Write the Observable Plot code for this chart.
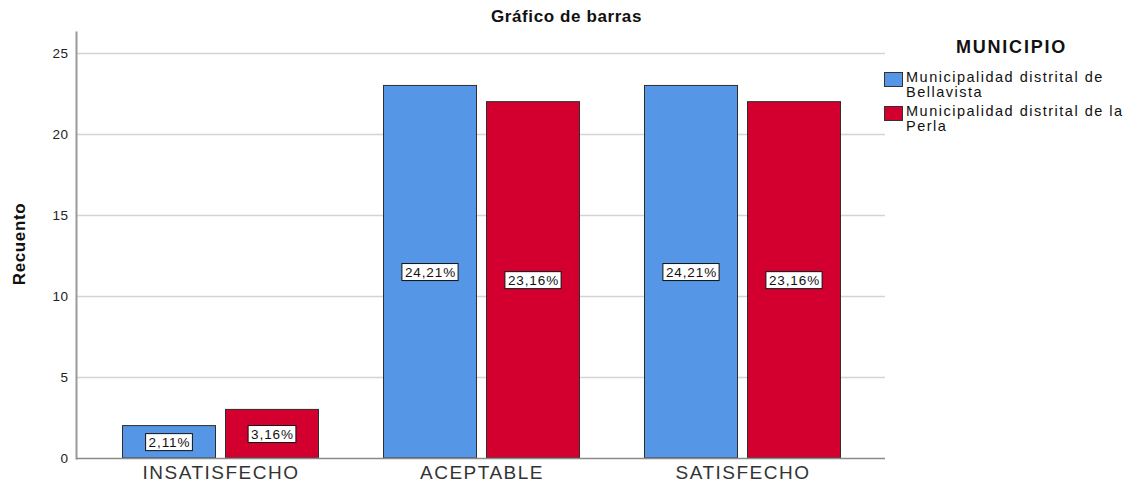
<!DOCTYPE html>
<html>
<head>
<meta charset="utf-8">
<script src="https://cdn.jsdelivr.net/npm/d3@7"></script>
<script src="https://cdn.jsdelivr.net/npm/@observablehq/plot@0.6"></script>
<style>
  body { margin: 0; background: #fff; }
  #wrap { position: relative; width: 1133px; height: 485px; font-family: "Liberation Sans", Arial, sans-serif; }
  #title { position: absolute; left: 0; width: 1133px; top: 7px; text-align: center; font-weight: bold; font-size: 17px; letter-spacing: 0.6px; color: #111; }
  #legend { position: absolute; left: 884px; top: 37px; width: 249px; color: #111; }
  #legend .lt { text-align: center; font-weight: bold; font-size: 18px; letter-spacing: 1.8px; margin-left: 6px; margin-bottom: 12px; }
  #legend .it { display: flex; align-items: flex-start; margin-bottom: 5px; }
  #legend .sw { width: 17px; height: 13px; border: 1px solid #333; margin-top: 2px; margin-right: 3px; flex: none; }
  #legend .tx { font-size: 14.5px; line-height: 14.5px; letter-spacing: 1.5px; }
  svg g[aria-label="x-axis tick label"] text { letter-spacing: 1.5px; }
  svg g[aria-label="y-axis tick label"] text { letter-spacing: 0.5px; }
  svg g.lbl text { letter-spacing: 0.9px; }
  #ylab { position: absolute; left: 20px; top: 244px; transform: translate(-50%, -50%) rotate(-90deg); font-family: "Liberation Sans Narrow", "Liberation Sans", Arial, sans-serif; font-weight: bold; font-size: 17px; letter-spacing: 0.6px; white-space: nowrap; color: #111; }
</style>
</head>
<body>
<div id="wrap">
  <div id="title">Gráfico de barras</div>
  <div id="ylab">Recuento</div>
  <div id="legend"></div>
</div>
<script>
const categories = ["INSATISFECHO", "ACEPTABLE", "SATISFECHO"];
const municipios = ["Municipalidad distrital de Bellavista", "Municipalidad distrital de la Perla"];
const bellavista = [2, 23, 23];
const perla = [3, 22, 22];
const bellavistaPct = ["2,11%", "24,21%", "24,21%"];
const perlaPct = ["3,16%", "23,16%", "23,16%"];
const colors = ["#5596e6", "#d3002f"];
const yTicks = [0, 5, 10, 15, 20, 25];

const rows = [];
categories.forEach((c, i) => {
  rows.push({cat: c, mun: municipios[0], value: bellavista[i], pct: bellavistaPct[i]});
  rows.push({cat: c, mun: municipios[1], value: perla[i], pct: perlaPct[i]});
});
const rowsB = rows.filter(d => d.mun === municipios[0]);
const rowsP = rows.filter(d => d.mun === municipios[1]);

const barOpts = {insetLeft: 84, insetRight: 84, stroke: "#2e2e2e", strokeWidth: 1};
const txtOpts = {fontSize: 13.5, fill: "#111", className: "lbl"};

const chart = Plot.plot({
  width: 1133,
  height: 485,
  marginTop: 32,
  marginBottom: 27,
  marginLeft: 76,
  marginRight: 248,
  style: {fontFamily: "'Liberation Sans', Arial, sans-serif", background: "transparent", overflow: "visible"},
  x: {domain: categories, padding: 0, insetLeft: 13.5, insetRight: 12.5, label: null},
  y: {domain: [0, 26.3], label: null},
  marks: [
    Plot.gridY(yTicks.filter(t => t > 0), {stroke: "#d4d4d4", strokeOpacity: 1, strokeWidth: 1.5}),
    Plot.frame({anchor: "left", stroke: "#9a9a9a", strokeWidth: 2}),
    Plot.barY(rowsB, {x: "cat", y: "value", fill: colors[0], dx: -51.5, ...barOpts}),
    Plot.barY(rowsP, {x: "cat", y: "value", fill: colors[1], dx: 51.5, ...barOpts}),
    Plot.ruleY([0], {stroke: "#8a8a8a", strokeWidth: 1.5}),
    Plot.text(rowsB, {x: "cat", y: d => d.value / 2, text: "pct", dx: -51.5, ...txtOpts}),
    Plot.text(rowsP, {x: "cat", y: d => d.value / 2, text: "pct", dx: 51.5, ...txtOpts}),
    Plot.axisY({ticks: yTicks, tickSize: 0, tickPadding: 8, fontSize: 13.5, label: null, fill: "#222"}),
    Plot.axisX({tickSize: 0, tickPadding: 7, fontSize: 19, label: null, fill: "#333"})
  ]
});
chart.style.position = "absolute";
chart.style.left = "0px";
chart.style.top = "0px";
const wrap = document.getElementById("wrap");
wrap.insertBefore(chart, wrap.firstChild);

// white label boxes behind percentage texts
chart.querySelectorAll("g.lbl text").forEach(t => {
  const b = t.getBBox();
  const r = document.createElementNS("http://www.w3.org/2000/svg", "rect");
  const h = 17;
  r.setAttribute("x", b.x - 3);
  r.setAttribute("y", b.y + b.height / 2 - h / 2);
  r.setAttribute("width", b.width + 5);
  r.setAttribute("height", h);
  r.setAttribute("fill", "#fff");
  r.setAttribute("stroke", "#111");
  r.setAttribute("stroke-width", 1);
  const tr = t.getAttribute("transform");
  if (tr) r.setAttribute("transform", tr);
  t.parentNode.insertBefore(r, t);
});

// legend
const leg = document.getElementById("legend");
leg.innerHTML = '<div class="lt">MUNICIPIO</div>' + municipios.map((m, i) => {
  const parts = m.split(" ");
  const last = parts.pop();
  return `<div class="it"><div class="sw" style="background:${colors[i]}"></div><div class="tx">${parts.join(" ")}<br>${last}</div></div>`;
}).join("");
</script>
</body>
</html>
